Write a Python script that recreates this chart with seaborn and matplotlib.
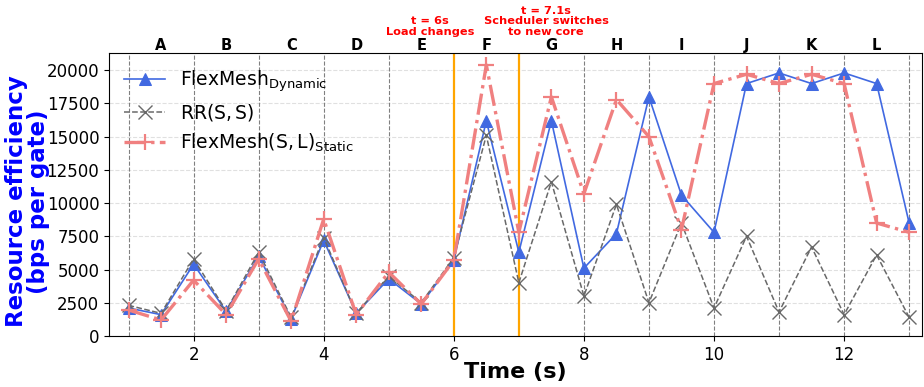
import numpy as np
import pandas as pd
import matplotlib
matplotlib.use("Agg")
import matplotlib.pyplot as plt
import seaborn as sns

# Time points (s)
time = [1, 1.5, 2, 2.5, 3, 3.5, 4, 4.5, 5, 5.5, 6, 6.5, 7, 7.5, 8, 8.5, 9,
        9.5, 10, 10.5, 11, 11.5, 12, 12.5, 13]

# Resource efficiency (bps per gate)
flexmesh_dynamic = [2100, 1600, 5400, 1850, 6000, 1300, 7200, 1700, 4300, 2400, 5700,
                    16200, 6300, 16200, 5100, 7700, 18000, 10600, 7800,
                    19000, 19800, 19000, 19800, 19000, 8500]
rr_ss = [2300, 1700, 5800, 1900, 6300, 1400, 7400, 1700, 4500, 2500, 5900,
         15100, 4000, 11600, 3000, 9900, 2500, 8500, 2100,
         7500, 1800, 6700, 1600, 6100, 1400]
flexmesh_static = [1950, 1200, 4200, 1600, 5800, 1100, 8800, 1600, 4800, 2400, 5700,
                   20400, 7800, 18000, 10700, 17800, 15000, 8000, 19000,
                   19700, 19000, 19700, 19000, 8500, 7800]

segment_labels = ["A", "B", "C", "D", "E", "F", "G", "H", "I", "J", "K", "L"]
segment_centers = [1.5, 2.5, 3.5, 4.5, 5.5, 6.5, 7.5, 8.5, 9.5, 10.5, 11.5, 12.5]
boundaries = list(range(1, 14))
event_times = [6, 7]

df = pd.DataFrame({
    "time": time,
    "dynamic": flexmesh_dynamic,
    "rr": rr_ss,
    "static": flexmesh_static,
})

fig = plt.figure(figsize=(9.24, 3.87), dpi=100)
ax = fig.add_axes([0.118, 0.132, 0.880, 0.731])

# background grid
ax.set_axisbelow(True)
ax.yaxis.grid(True, linestyle="--", color="lightgray", alpha=0.7, linewidth=0.8)
for b in boundaries:
    if b in event_times:
        continue
    ax.axvline(b, color="gray", linestyle="--", linewidth=0.8, zorder=1)
for t in event_times:
    ax.axvline(t, color="orange", linestyle="-", linewidth=1.6, zorder=1)

sns.lineplot(data=df, x="time", y="dynamic", ax=ax, color="royalblue",
             linestyle="-", linewidth=1.2, marker="^", markersize=8,
             markeredgecolor="royalblue", label=r"FlexMesh$_{\mathrm{Dynamic}}$", zorder=3)
sns.lineplot(data=df, x="time", y="rr", ax=ax, color="dimgray",
             linestyle="--", linewidth=1.1, marker="x", markersize=10,
             markeredgecolor="dimgray", markeredgewidth=1.0,
             label=r"$\mathrm{RR(S,S)}$", zorder=3)
sns.lineplot(data=df, x="time", y="static", ax=ax, color="lightcoral",
             linestyle="-.", linewidth=2.4, marker="+", markersize=12,
             markeredgecolor="lightcoral", markeredgewidth=1.6,
             label=r"$\mathrm{FlexMesh(S,L)_{Static}}$", zorder=3)

ax.set_xlim(0.7, 13.2)
ax.set_ylim(0, 21300)
ax.set_yticks(np.arange(0, 20001, 2500))
ax.set_xticks([2, 4, 6, 8, 10, 12])
ax.tick_params(axis="both", labelsize=12)

ax.set_xlabel("Time (s)", fontsize=16, fontweight="bold", labelpad=-1)
ax.set_ylabel("Resource efficiency\n(bps per gate)", fontsize=16.5,
              fontweight="bold", color="blue", linespacing=0.92)
ax.yaxis.set_label_coords(-0.073, 0.475)

# segment letters above the plot
for lab, c in zip(segment_labels, segment_centers):
    ax.text(c, 1.0, lab, transform=ax.get_xaxis_transform(), ha="center",
            va="bottom", fontsize=10.5, fontweight="bold")

ax.text(5.63, 1.056, "t = 6s\nLoad changes", transform=ax.get_xaxis_transform(),
        ha="center", va="bottom", fontsize=8.2, fontweight="bold", color="red",
        linespacing=1.1)
ax.text(7.42, 1.056, "t = 7.1s\nScheduler switches\nto new core",
        transform=ax.get_xaxis_transform(), ha="center", va="bottom",
        fontsize=8.2, fontweight="bold", color="red", linespacing=1.1)

ax.legend(loc="upper left", fontsize=13.5, frameon=False, handlelength=2.2,
          borderaxespad=0.4, labelspacing=0.45)

fig.savefig("out.png", dpi=100)
